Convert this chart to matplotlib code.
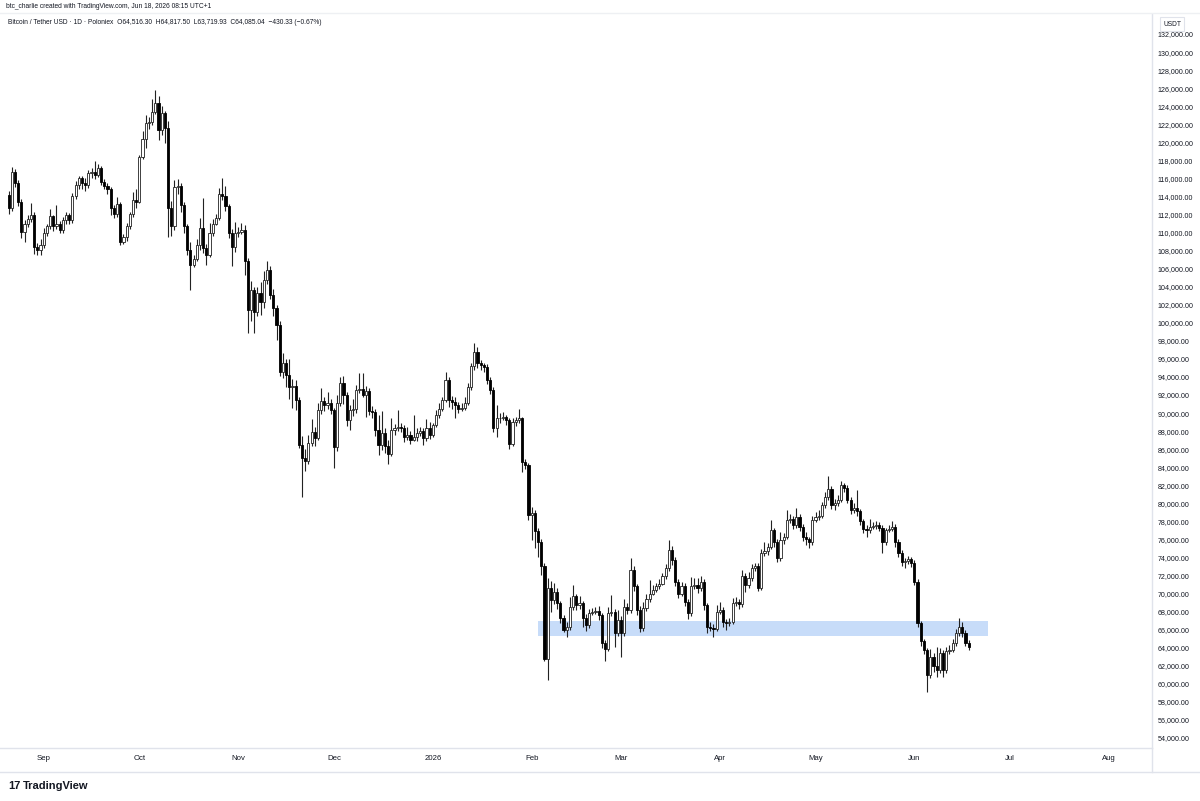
import numpy as np
import pandas as pd
import matplotlib
matplotlib.use('Agg')
import matplotlib.pyplot as plt
import matplotlib.dates as mdates
from matplotlib.lines import Line2D
from matplotlib.patches import Rectangle

plt.rcParams['font.family'] = ['Liberation Sans', 'DejaVu Sans']

# daily BTC/USDT candles (thousands of USDT), 2025-08-21 .. 2026-06-18
start_date = '2025-08-21'
first_open_k = 114.2

closes_k = [
    112.7, 116.7, 115.5, 113.4, 110.1, 111.0, 111.5, 112.0, 108.4, 108.1, 108.6,
    110.0, 110.7, 111.8, 110.7, 110.9, 110.3, 111.4, 111.9, 111.4, 114.0,
    115.3, 116.0, 115.5, 115.3, 116.6, 116.7, 116.4, 117.1, 115.6, 115.2,
    114.8, 112.7, 112.1, 113.2, 108.9, 109.5, 110.7, 112.1, 113.6, 113.4,
    118.4, 120.4, 122.1, 122.3, 123.4, 124.3, 121.4, 123.2, 121.6, 112.7,
    110.7, 115.1, 115.2, 113.1, 110.7, 108.1, 106.4, 107.1, 108.6, 110.5,
    108.3, 107.5, 109.9, 111.0, 111.6, 114.3, 114.0, 112.9, 109.9, 108.4, 109.9,
    110.1, 110.3, 106.8, 101.4, 103.6, 101.2, 103.3, 102.3, 104.7, 105.9,
    103.1, 101.6, 99.8, 94.6, 95.5, 94.2, 92.9, 93.0, 91.4, 86.5,
    85.0, 84.7, 86.7, 87.9, 87.2, 90.3, 91.3, 90.9, 91.1, 90.3,
    86.2, 91.1, 93.3, 92.0, 89.2, 90.3, 90.4, 92.6, 92.7, 92.0,
    92.4, 90.2, 90.1, 88.1, 86.5, 87.8, 86.3, 85.5, 88.1, 88.3,
    88.5, 88.4, 87.4, 87.6, 87.0, 87.3, 87.8, 88.0, 87.2, 88.3, 87.6,
    88.7, 89.8, 90.5, 91.4, 93.7, 91.4, 91.2, 90.9, 90.5, 90.6,
    91.1, 92.9, 95.2, 96.8, 95.5, 95.3, 95.1, 93.7, 92.6, 88.3,
    89.4, 89.5, 89.6, 89.2, 86.6, 89.0, 89.2, 89.4, 84.6, 84.2, 78.7,
    78.9, 76.9, 75.7, 73.0, 62.8, 70.6, 69.3, 70.2, 68.9, 67.3,
    66.0, 66.3, 68.5, 69.7, 68.7, 68.9, 67.3, 66.5, 67.8, 68.0,
    68.1, 67.6, 64.5, 63.9, 67.8, 68.0, 65.6, 67.1,
    65.6, 68.5, 68.2, 72.6, 70.8, 68.2, 66.2, 68.4, 69.4, 70.0,
    70.4, 70.8, 71.1, 71.9, 72.8, 74.8, 73.7, 71.3, 70.0, 70.8,
    69.1, 67.8, 70.8, 71.0, 70.6, 71.3, 68.7, 66.3, 66.2, 66.1, 68.0,
    68.2, 66.9, 66.7, 66.9, 69.0, 69.1, 68.8, 71.9, 71.0, 71.7,
    72.8, 73.0, 70.6, 74.5, 74.7, 75.2, 77.0, 75.7, 73.9, 75.9,
    76.3, 78.2, 78.3, 77.6, 78.5, 77.4, 76.3, 76.1, 75.7, 78.2,
    78.5, 78.6, 79.8, 80.7, 81.6, 79.8, 80.0, 80.4, 82.0, 81.7,
    80.4, 79.3, 79.5, 79.1, 78.0, 77.2, 77.0, 77.4, 77.5, 77.6,
    77.3, 75.7, 77.0, 77.2, 77.4, 75.7, 74.5, 73.5, 73.6, 73.8, 73.4,
    71.3, 66.7, 64.7, 63.7, 61.0, 63.0, 62.0, 61.5, 63.4, 61.5,
    63.6, 63.8, 64.5, 65.6, 66.3, 65.6, 64.5, 64.08504,
]

highs_k = [
    114.6, 117.3, 117.0, 115.8, 113.7, 111.4, 112.0, 113.3, 112.3, 108.8, 109.3,
    110.5, 111.0, 112.6, 112.0, 113.0, 111.3, 111.7, 112.3, 112.2, 114.4,
    115.7, 116.3, 116.3, 116.0, 116.9, 117.1, 117.9, 117.6, 117.4, 115.9,
    115.5, 115.1, 113.1, 113.9, 113.4, 109.8, 111.1, 112.3, 114.5, 114.8,
    118.6, 121.2, 123.0, 122.8, 124.8, 125.8, 125.1, 124.0, 123.5, 122.4,
    113.5, 115.8, 115.9, 115.5, 113.4, 111.0, 109.0, 107.5, 109.3, 111.6,
    113.8, 108.7, 111.1, 111.5, 112.1, 114.9, 116.0, 115.2, 113.2, 110.4, 111.2,
    110.6, 111.1, 110.8, 107.2, 104.6, 104.0, 104.0, 104.5, 105.7, 106.9,
    106.3, 103.8, 102.0, 100.2, 96.6, 96.0, 96.0, 93.8, 93.7, 91.8,
    87.5, 86.0, 87.6, 89.3, 88.5, 91.1, 92.8, 91.8, 92.3, 91.6,
    90.6, 92.0, 94.0, 94.1, 92.3, 90.9, 91.6, 93.1, 94.4, 94.4,
    93.0, 92.8, 90.8, 90.4, 89.8, 90.2, 88.3, 87.0, 89.4, 88.8,
    90.3, 88.9, 88.7, 88.5, 88.0, 89.8, 88.3, 88.5, 88.4, 89.3, 89.0,
    88.9, 90.3, 91.1, 91.8, 94.6, 94.0, 91.9, 91.8, 91.2, 91.1,
    91.8, 93.3, 95.6, 97.8, 97.3, 95.9, 95.6, 95.4, 94.0, 92.9,
    90.9, 90.0, 90.1, 89.8, 89.5, 89.5, 89.6, 90.4, 89.6, 84.9, 84.5,
    79.6, 79.3, 77.3, 76.0, 73.4, 71.7, 71.4, 71.2, 70.6, 69.2,
    67.6, 66.8, 69.6, 70.9, 70.0, 69.7, 69.2, 67.7, 68.3, 68.4,
    68.5, 68.6, 67.9, 64.8, 68.5, 69.8, 68.3, 68.2,
    67.5, 69.4, 69.0, 73.9, 73.0, 71.1, 68.6, 69.1, 70.0, 71.5,
    70.9, 71.2, 71.6, 72.3, 73.3, 75.9, 75.3, 74.0, 71.6, 71.3,
    71.2, 69.4, 71.8, 71.7, 71.7, 71.9, 71.6, 69.0, 66.8, 66.6, 68.7,
    69.1, 68.5, 67.2, 67.3, 69.5, 69.6, 69.4, 72.6, 72.3, 72.4,
    73.3, 73.4, 73.4, 74.9, 75.7, 75.6, 78.2, 77.3, 76.0, 76.8,
    76.7, 79.3, 78.8, 78.6, 79.5, 78.8, 77.7, 76.8, 76.3, 78.6,
    79.0, 79.3, 80.2, 81.2, 83.0, 81.9, 80.5, 80.9, 82.5, 82.3,
    82.0, 80.7, 80.0, 81.5, 79.4, 78.3, 77.6, 78.3, 77.9, 78.0,
    77.9, 77.6, 77.3, 77.6, 78.0, 77.7, 76.0, 74.8, 73.9, 74.2, 74.0,
    73.7, 71.6, 67.0, 65.0, 64.0, 63.9, 63.4, 64.1, 64.0, 63.7,
    64.1, 64.3, 65.0, 66.1, 67.3, 66.9, 66.0, 64.8175,
]

lows_k = [
    112.1, 112.4, 115.0, 112.9, 109.4, 109.0, 110.6, 111.2, 107.6, 107.5, 107.5,
    108.3, 109.6, 110.4, 110.2, 110.4, 109.9, 110.0, 111.0, 110.9, 111.1,
    113.7, 114.8, 114.8, 114.6, 114.9, 116.1, 115.9, 116.2, 115.3, 114.8,
    114.3, 112.0, 111.6, 111.7, 108.6, 108.7, 109.1, 110.4, 111.7, 112.7,
    113.3, 118.1, 119.4, 121.5, 121.9, 123.1, 120.3, 120.8, 119.9, 109.5,
    109.6, 110.3, 114.3, 112.3, 109.9, 107.5, 103.6, 106.2, 106.8, 108.1,
    107.7, 106.4, 107.3, 109.6, 110.8, 111.4, 113.6, 112.4, 109.4, 106.3, 107.9,
    109.5, 109.8, 105.3, 98.9, 100.2, 98.9, 100.8, 100.9, 101.6, 104.3,
    102.6, 100.8, 98.1, 94.1, 93.9, 92.9, 91.6, 90.6, 90.3, 86.1,
    80.7, 83.6, 84.4, 86.3, 86.3, 87.0, 89.9, 90.2, 90.4, 89.9,
    83.9, 85.8, 90.8, 91.0, 88.6, 88.1, 89.7, 90.0, 92.2, 91.8,
    89.6, 89.8, 89.4, 87.5, 85.4, 85.9, 85.6, 84.4, 85.2, 87.6,
    88.0, 87.9, 86.8, 87.0, 86.6, 86.9, 86.9, 87.5, 86.5, 86.9, 87.1,
    87.4, 88.5, 89.5, 90.2, 91.2, 90.7, 90.4, 89.5, 90.0, 90.2,
    90.3, 90.9, 92.6, 94.8, 95.0, 94.8, 94.5, 93.2, 92.1, 87.9,
    87.3, 88.9, 89.2, 88.7, 86.0, 86.3, 88.6, 88.9, 83.5, 83.8, 78.2,
    75.9, 75.0, 74.0, 72.1, 62.5, 60.4, 68.0, 68.8, 68.3, 66.7,
    65.7, 65.2, 66.0, 68.2, 68.2, 68.3, 66.3, 65.9, 66.2, 67.6,
    67.7, 67.1, 64.0, 62.5, 63.6, 67.5, 64.1, 65.3,
    63.0, 65.3, 67.7, 67.9, 70.3, 67.6, 65.7, 65.9, 68.1, 69.1,
    69.8, 70.2, 70.5, 70.9, 71.6, 72.5, 73.2, 70.8, 69.5, 69.7,
    68.6, 67.2, 67.5, 70.5, 70.1, 70.3, 68.2, 65.6, 65.9, 65.2, 65.8,
    67.7, 66.3, 66.0, 66.4, 66.6, 68.6, 68.3, 68.5, 70.2, 70.6,
    71.4, 72.5, 70.3, 70.4, 74.2, 74.3, 74.9, 75.2, 73.5, 73.6,
    75.5, 76.0, 77.8, 77.1, 77.3, 76.9, 75.8, 75.4, 75.1, 75.4,
    77.9, 78.2, 78.4, 79.5, 80.4, 79.4, 79.3, 79.7, 80.1, 81.2,
    80.0, 78.8, 78.9, 78.6, 77.6, 76.7, 76.3, 76.7, 77.1, 77.2,
    76.9, 74.5, 75.4, 76.8, 76.9, 75.2, 74.1, 73.0, 72.8, 73.3, 72.9,
    70.9, 66.3, 64.2, 63.3, 59.1, 60.6, 61.3, 60.8, 61.2, 60.8,
    61.2, 63.3, 63.5, 64.2, 65.3, 65.2, 64.2, 63.71993,
]

# highlighted support zone
zone_start, zone_end = '2026-02-03', '2026-06-24'
zone_low, zone_high = 65300, 67000

month_ticks = ['2025-09-01', '2025-10-01', '2025-11-01', '2025-12-01', '2026-01-01',
               '2026-02-01', '2026-03-01', '2026-04-01', '2026-05-01', '2026-06-01',
               '2026-07-01', '2026-08-01']
month_labels = ['Sep', 'Oct', 'Nov', 'Dec', '2026', 'Feb', 'Mar', 'Apr', 'May', 'Jun', 'Jul', 'Aug']

dates = pd.date_range(start_date, periods=len(closes_k), freq='D')
x = mdates.date2num(dates)
c = np.array(closes_k) * 1000
o = np.concatenate([[first_open_k * 1000], c[:-1]])
h = np.maximum(np.array(highs_k) * 1000, np.maximum(o, c))
l = np.minimum(np.array(lows_k) * 1000, np.minimum(o, c))
up = c >= o

W, H = 1200, 801
fig = plt.figure(figsize=(12, 8.01), dpi=100)
fig.patch.set_facecolor('white')
ax = fig.add_axes([0, 1 - 748 / H, 1152 / W, (748 - 14) / H])

# zone
z0 = mdates.date2num(pd.Timestamp(zone_start))
z1 = mdates.date2num(pd.Timestamp(zone_end))
ax.add_patch(Rectangle((z0, zone_low), z1 - z0, zone_high - zone_low,
                       facecolor='#c7dcf9', edgecolor='none', zorder=0))

# candles
ax.vlines(x, l, h, color='#222222', linewidth=0.8, zorder=1)
body = np.maximum(np.abs(c - o), 90)
bottom = np.minimum(o, c)
ax.bar(x[up], body[up], bottom=bottom[up], width=0.68, color='white',
       edgecolor='#222222', linewidth=0.6, zorder=2)
ax.bar(x[~up], body[~up], bottom=bottom[~up], width=0.68, color='#000000',
       edgecolor='#000000', linewidth=0.6, zorder=2)

x_sep = mdates.date2num(pd.Timestamp('2025-09-01'))
ax.set_xlim(x_sep - 13.7, x_sep + 347.5)
ax.set_ylim(52889, 134216)

ax.yaxis.tick_right()
ax.set_yticks(np.arange(54000, 132001, 2000))
ax.set_yticklabels([f'{v:,.2f}' for v in np.arange(54000, 132001, 2000)])
ax.set_xticks([mdates.date2num(pd.Timestamp(t)) for t in month_ticks])
ax.set_xticklabels(month_labels)
ax.tick_params(axis='y', length=0, pad=4, labelsize=5.1, labelcolor='#131722')
ax.tick_params(axis='x', length=0, pad=5, labelsize=5.6, labelcolor='#131722')
for side in ['left', 'top']:
    ax.spines[side].set_visible(False)
for side in ['right', 'bottom']:
    ax.spines[side].set_color('#e0e3eb')
    ax.spines[side].set_linewidth(1)

# pane frame
fig.add_artist(Line2D([1152 / W, 1152 / W], [1 - 748 / H, 1 - 772 / H], color='#e0e3eb', lw=1))
fig.add_artist(Line2D([0, 1], [1 - 772 / H, 1 - 772 / H], color='#e0e3eb', lw=1))
fig.add_artist(Line2D([0, 1], [1 - 13 / H, 1 - 13 / H], color='#eef0f3', lw=1))

fig.text(6 / W, 1 - 7 / H, 'btc_charlie created with TradingView.com, Jun 18, 2026 08:15 UTC+1',
         fontsize=4.8, color='#131722', va='center', ha='left')
fig.text(8 / W, 1 - 23 / H,
         'Bitcoin / Tether USD \u00b7 1D \u00b7 Poloniex  O64,516.30  H64,817.50  L63,719.93  '
         'C64,085.04  \u2212430.33 (\u22120.67%)',
         fontsize=4.8, color='#131722', va='center', ha='left')
fig.text(1163 / W, 1 - 24 / H, 'USDT', fontsize=4.8, color='#131722', va='center', ha='left',
         bbox=dict(boxstyle='square,pad=0.5', facecolor='white', edgecolor='#e0e3eb', linewidth=0.8))

fig.text(8 / W, 1 - 786 / H, '17', fontsize=8, fontweight='heavy', color='#131722',
         va='center', ha='left')
fig.text(23 / W, 1 - 786 / H, 'TradingView', fontsize=8, fontweight='bold', color='#131722',
         va='center', ha='left')

fig.savefig('out.png', dpi=100)
